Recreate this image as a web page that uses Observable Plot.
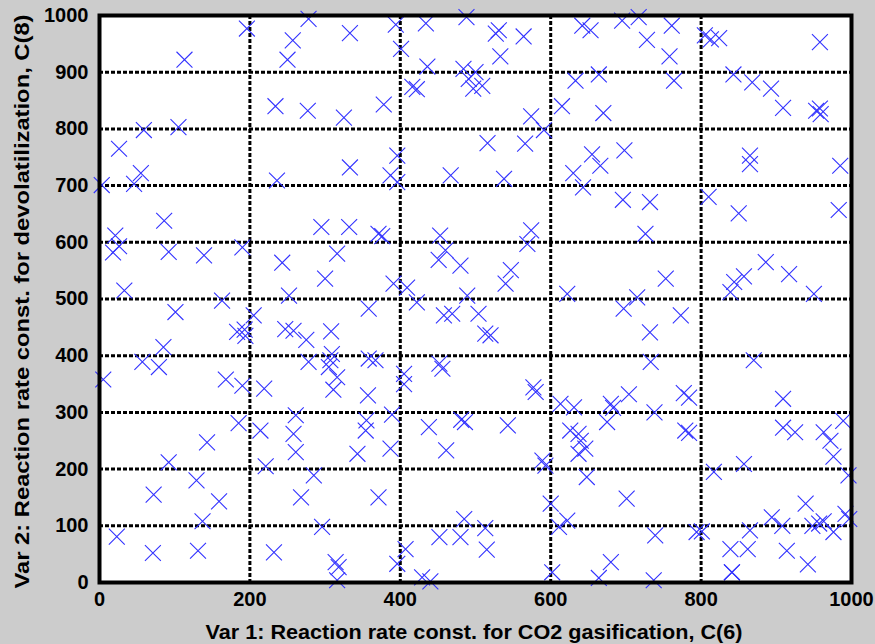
<!DOCTYPE html>
<html>
<head>
<meta charset="utf-8">
<script src="https://cdn.jsdelivr.net/npm/d3@7"></script>
<script src="https://cdn.jsdelivr.net/npm/@observablehq/plot@0.6"></script>
<style>
  html, body { margin: 0; padding: 0; background: #cccccc; }
  #chart svg { display: block; overflow: hidden; }
</style>
</head>
<body>
<div id="chart"></div>
<script>
// Sample points: Var 1 (x) and Var 2 (y)
const var1 = [
  196,113,234,59,105,26,55,46,3,236,
  278,257,250,333,394,401,434,488,436,416,422,277,325,378,396,333,387,396,467,
  484,491,497,500,509,
  531,527,564,533,633,664,615,670,574,591,516,566,655,666,698,630,643,538,696,732,642,653,695,717,728,
  761,758,764,805,813,824,958,843,868,893,909,953,958,959,865,865,985,810,
  86,21,26,18,92,139,190,243,33,163,101,205,183,193,194,85,57,79,5,168,190,219,
  295,332,371,376,316,453,460,451,480,300,391,409,252,422,489,358,458,469,247,258,275,308,309,307,278,305,316,311,358,367,357,405,405,452,456,
  574,569,726,547,540,753,504,622,715,697,513,520,732,733,577,580,704,
  850,983,886,857,844,839,917,950,773,870,777,784,909,
  185,214,143,92,221,129,72,159,137,23,71,131,232,
  261,258,261,355,354,389,387,343,438,481,486,461,285,268,371,296,452,480,485,407,314,318,316,396,429,440,
  613,631,680,683,675,738,543,626,637,640,646,637,589,593,648,701,600,622,611,513,515,739,680,664,602,737,
  989,779,784,909,925,963,972,976,817,857,996,939,894,908,948,957,963,976,992,997,794,801,865,839,862,914,942,841,841
];
const var2 = [
  977,922,840,798,803,765,722,703,701,709,
  994,956,922,969,984,941,986,997,910,874,870,832,820,843,753,732,718,706,718,
  906,888,871,900,876,
  974,968,963,928,885,896,840,828,822,798,775,774,755,735,762,722,697,712,675,671,982,974,991,997,957,
  982,928,885,965,958,960,953,896,882,871,837,832,836,826,753,738,735,680,
  638,612,593,582,583,577,591,564,515,497,477,471,442,446,435,415,389,380,358,358,347,342,
  627,627,615,611,580,612,586,569,559,536,527,520,506,494,506,483,471,474,447,444,428,443,403,392,389,380,362,340,395,392,330,368,350,386,377,
  621,597,615,551,527,536,474,509,503,483,439,436,441,389,344,336,332,
  651,657,565,540,530,512,544,509,471,392,334,326,324,
  281,268,247,212,205,180,155,143,108,81,52,56,53,
  295,262,230,286,268,296,236,227,274,287,283,233,189,150,150,98,80,80,112,59,36,27,4,33,9,2,
  315,309,315,308,283,300,277,268,262,250,236,227,215,206,186,148,139,109,98,96,58,83,36,8,18,4,
  285,268,264,273,265,265,250,222,195,209,189,139,115,100,100,104,108,89,121,112,89,90,92,59,59,56,32,18,18
];
const xTicks = [0, 200, 400, 600, 800, 1000];
const yTicks = [0, 100, 200, 300, 400, 500, 600, 700, 800, 900, 1000];
const titleText = "Sample points in parameter space";
const xLabel = "Var 1: Reaction rate const. for CO2 gasification, C(6)";
const yLabel = "Var 2: Reaction rate const. for devolatilization, C(8)";

const points = var1.map((v, i) => ({x: v, y: var2[i]}));

const chart = Plot.plot({
  width: 875,
  height: 644,
  marginLeft: 99,
  marginRight: 24,
  marginTop: 15,
  marginBottom: 62,
  style: {
    fontFamily: "'Liberation Sans', Arial, Helvetica, sans-serif",
    fontSize: "20px",
    fontWeight: "bold",
    background: "#cccccc",
    color: "black"
  },
  x: {domain: [0, 1000], label: null},
  y: {domain: [0, 1000], label: null},
  marks: [
    Plot.frame({fill: "white", stroke: null}),
    Plot.gridX(xTicks.slice(1, -1), {stroke: "black", strokeOpacity: 1, strokeWidth: 3, strokeDasharray: "4,2"}),
    Plot.gridY(yTicks.slice(1, -1), {stroke: "black", strokeOpacity: 1, strokeWidth: 3, strokeDasharray: "4,2"}),
    Plot.dot(points, {x: "x", y: "y", symbol: "times", r: 7.3, stroke: "#3232ff", strokeWidth: 1.1}),
    Plot.frame({stroke: "black", strokeWidth: 4}),
    Plot.axisX({ticks: xTicks, tickFormat: d => String(d), tickSize: 0, tickPadding: 9, label: null, fill: "black", fontSize: 20}),
    Plot.axisY({ticks: yTicks, tickFormat: d => String(d), tickSize: 0, tickPadding: 11, label: null, fill: "black", fontSize: 20}),
    Plot.text([xLabel], {text: d => d, frameAnchor: "bottom", dx: -1.5, dy: 50, lineAnchor: "middle", textAnchor: "middle", fontSize: 21, fontWeight: "bold", fill: "black"}),
    Plot.text([yLabel], {text: d => d, frameAnchor: "left", dx: -77, dy: 2.5, rotate: -90, lineAnchor: "middle", textAnchor: "middle", fontSize: 21, fontWeight: "bold", fill: "black"}),
    Plot.text([titleText], {text: d => d, frameAnchor: "top", dy: -20, lineAnchor: "bottom", textAnchor: "middle", fontSize: 21, fontWeight: "bold", fill: "black"})
  ]
});

// Stretch axis labels to the reference's text extents
chart.querySelectorAll("text").forEach(t => {
  if (t.textContent === xLabel) { t.setAttribute("textLength", 537); t.setAttribute("lengthAdjust", "spacingAndGlyphs"); }
  if (t.textContent === yLabel) { t.setAttribute("textLength", 574); t.setAttribute("lengthAdjust", "spacingAndGlyphs"); }
});
document.getElementById("chart").appendChild(chart);
</script>
</body>
</html>
